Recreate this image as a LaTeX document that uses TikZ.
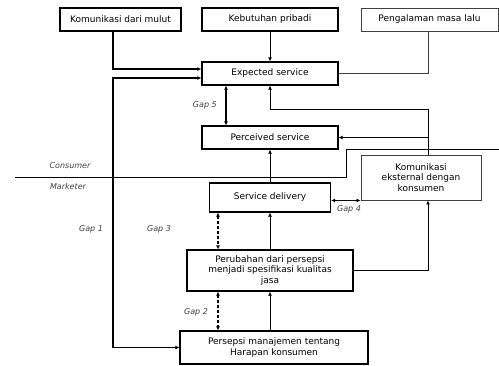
\documentclass[tikz,border=0pt]{standalone}
\usepackage{fontspec}
\setmainfont{DejaVu Sans}
\usetikzlibrary{arrows.meta,calc}
\tikzset{
  box/.style={draw,line width=1.3pt,inner sep=0pt,align=center,font=\fontsize{9}{10.5}\selectfont},
  thinbox/.style={box,line width=0.9pt,draw=black!75},
  conn/.style={line width=0.9pt},
  arr/.style={conn,-{Latex[length=4pt,width=4pt]}},
  dbl/.style={conn,line width=1.2pt,{Latex[length=4pt,width=4pt]}-{Latex[length=4pt,width=4pt]}},
  gaplbl/.style={font=\fontsize{8}{10}\selectfont\itshape,text=black!75,inner sep=0pt}
}
\begin{document}
\begin{tikzpicture}[x=1pt,y=-1pt]
\useasboundingbox (0,0) rectangle (499,365);
\node[box,minimum width=121,minimum height=23] at (120.5,19.5) (mulut) {Komunikasi dari mulut};
\node[box,minimum width=136,minimum height=23] at (270,19.5) (pribadi) {Kebutuhan pribadi};
\node[thinbox,minimum width=137,minimum height=23] at (429.5,19.5) (masa) {Pengalaman masa lalu};
\node[box,minimum width=136,minimum height=23] at (270,73.5) (expected) {Expected service};
\node[box,minimum width=136,minimum height=23] at (270,137.5) (perceived) {Perceived service};
\node[box,minimum width=121,minimum height=29] at (270,197.5) (delivery) {Service delivery};
\node[thinbox,minimum width=120,minimum height=45] at (421,177.5) (eksternal) {Komunikasi\\eksternal dengan\\konsumen};
\node[box,minimum width=166,minimum height=41] at (270,270.5) (perubahan) {Perubahan dari persepsi\\menjadi spesifikasi kualitas\\jasa};
\node[box,minimum width=188,minimum height=33] at (274,347.5) (persepsi) {Persepsi manajemen tentang\\Harapan konsumen};
\coordinate (left) at (113,0);
\coordinate (right) at (428,0);
\coordinate (g3) at (218,0);
\coordinate (bend) at (270,109);
\coordinate (g4) at ([yshift=-3pt]delivery.east);
\draw[line width=1pt] (15,177) -- (346,177) -- (346,149) -- (499,149);
\node[gaplbl] at (70,166) (consumer) {Consumer};
\node[gaplbl] at (68,187) (marketer) {Marketer};
\draw[arr,line width=1.2pt] (left |- mulut.south) |- ([yshift=4.5pt]expected.west);
\draw[dbl] ([yshift=-4.5pt]expected.west) -| (left |- persepsi.west) -- (persepsi.west);
\draw[arr] (pribadi) -- (expected);
\draw[conn,draw=black!75] (right |- masa.south) |- (expected.east);
\draw[arr] (right |- eksternal.north) |- (bend) -- (expected.south);
\draw[arr] (right |- perceived.east) -- (perceived.east);
\draw[dbl] ([xshift=-44pt]expected.south) -- ([xshift=-44pt]perceived.north);
\draw[arr] (delivery) -- (perceived);
\draw[dbl] (g4) -- (g4 -| eksternal.west);
\draw[dbl,densely dashed] (g3 |- delivery.south) -- (g3 |- perubahan.north);
\draw[arr] (perubahan) -- (delivery);
\draw[arr] (perubahan.east) -| (right |- eksternal.south);
\draw[dbl,densely dashed] (g3 |- perubahan.south) -- (g3 |- persepsi.north);
\draw[arr] (perubahan.south |- persepsi.north) -- (perubahan.south);
\node[gaplbl,anchor=east] at (217,105) (gap5) {Gap 5};
\node[gaplbl] at (349,209) (gap4) {Gap 4};
\node[gaplbl] at (91,229) (gap1) {Gap 1};
\node[gaplbl] at (159,229) (gap3) {Gap 3};
\node[gaplbl] at (196,312) (gap2) {Gap 2};
\end{tikzpicture}
\end{document}
